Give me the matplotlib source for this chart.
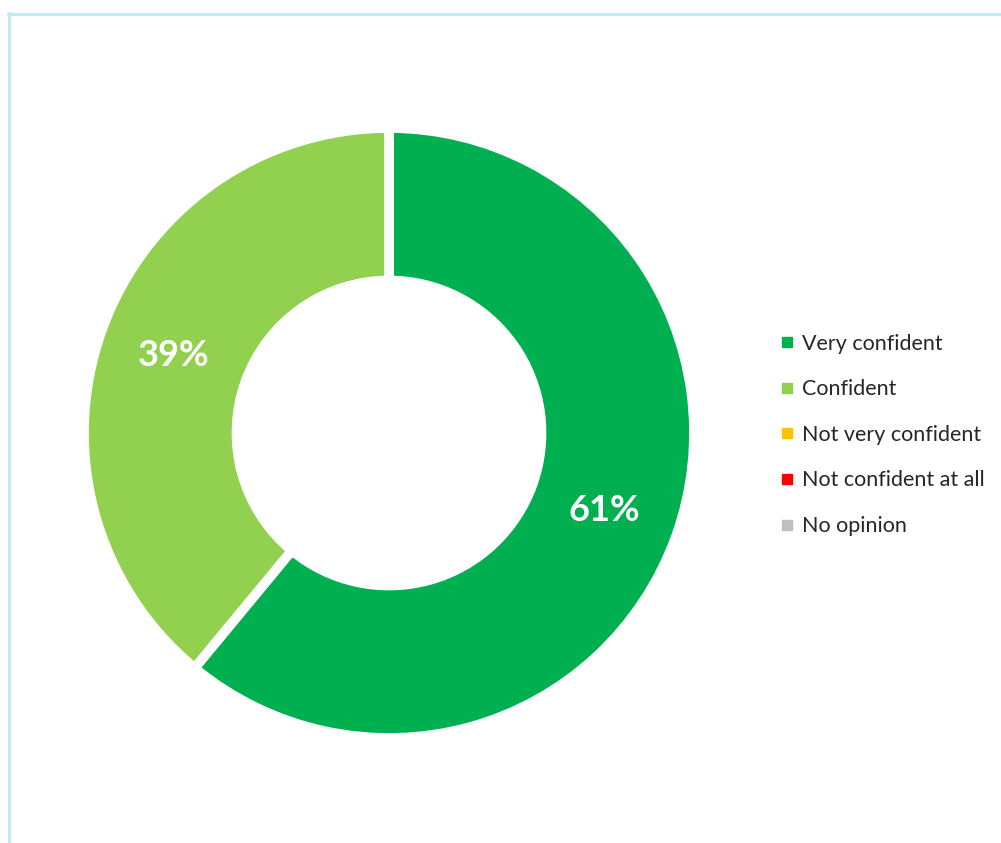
import matplotlib
matplotlib.use('Agg')
import matplotlib.pyplot as plt
from matplotlib.lines import Line2D

# Survey answers
categories = ['Very confident', 'Confident', 'Not very confident',
              'Not confident at all', 'No opinion']
shares = [61, 39, 0, 0, 0]
colors = ['#00B050', '#92D050', '#FFC000', '#FF0000', '#BFBFBF']

plt.rcParams['font.family'] = ['Lato', 'DejaVu Sans']

W, H = 1001, 843
fig = plt.figure(figsize=(W / 100, H / 100), dpi=100)
fig.patch.set_facecolor('white')

# donut centred at (389, 433) px; white edge eats a few px of the radius
cx, cy, r = 389, 433, 305
ax = fig.add_axes([(cx - r) / W, (H - cy - r) / H, 2 * r / W, 2 * r / H])

nz = [i for i, v in enumerate(shares) if v > 0]
wedges, texts, autotexts = ax.pie(
    [shares[i] for i in nz], colors=[colors[i] for i in nz],
    startangle=90, counterclock=False, radius=1.0,
    autopct='%d%%', pctdistance=0.75,
    wedgeprops=dict(width=0.5, edgecolor='white', linewidth=7))
for t in autotexts:
    t.set_color('white')
    t.set_fontsize(26)
    t.set_fontweight('bold')
ax.set_xlim(-1, 1)
ax.set_ylim(-1, 1)
ax.set_aspect('equal')
ax.axis('off')

# legend
handles = [Line2D([], [], marker='s', linestyle='none', markersize=7,
                  markerfacecolor=c, markeredgecolor=c) for c in colors]
fig.legend(handles, categories, loc='upper left',
           bbox_to_anchor=(770 / W, 1 - 325 / H), frameon=False,
           fontsize=15.5, handlelength=0.75, handletextpad=0.35,
           labelspacing=1.19, borderaxespad=0, labelcolor='#262626')

# light blue frame (left and top edges visible)
fig.add_artist(Line2D([8.5 / W, 8.5 / W], [0, 1 - 13 / H],
                      transform=fig.transFigure, color='#BDE8F7', lw=2))
fig.add_artist(Line2D([8 / W, 1], [1 - 13.5 / H, 1 - 13.5 / H],
                      transform=fig.transFigure, color='#BDE8F7', lw=2))

fig.savefig('out.png', dpi=100, facecolor='white')
